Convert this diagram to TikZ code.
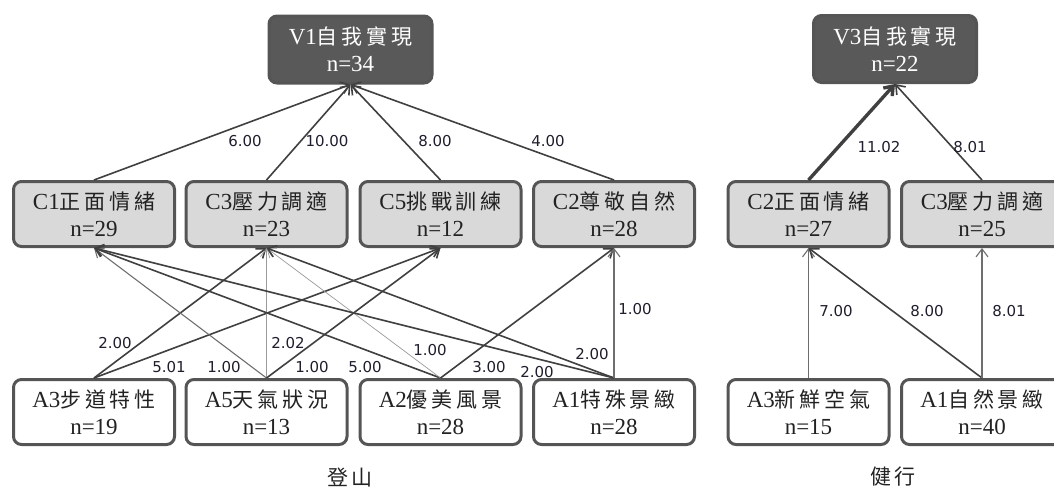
\documentclass[tikz,border=0pt]{standalone}
\usepackage{fontspec}
\setmainfont{Liberation Serif}
\newfontfamily\cjkface[LetterSpace=18]{Noto Sans CJK TC}
\newcommand\cjk{\cjkface\fontsize{21}{27}\selectfont}
\newfontfamily\numfont{DejaVu Sans}
\usetikzlibrary{arrows.meta}

\definecolor{frame}{HTML}{555555}
\definecolor{midfill}{HTML}{D9D9D9}
\definecolor{topfill}{HTML}{595959}
\definecolor{ink}{HTML}{222222}
\definecolor{wire}{HTML}{404040}
\definecolor{wiremid}{HTML}{6E6E6E}
\definecolor{wirelight}{HTML}{9A9A9A}
\definecolor{numink}{HTML}{1E1E2C}

\begin{document}
\begin{tikzpicture}[x=1pt,y=-1pt,
  box/.style={draw=frame, line width=3pt, rounded corners=8pt,
    minimum width=161pt, minimum height=65pt, inner sep=0pt,
    align=center, text=ink, font=\fontsize{23}{27}\selectfont},
  attr/.style={box, fill=white},
  cons/.style={box, fill=midfill},
  goal/.style={box, fill=topfill, text=white, minimum width=163pt, minimum height=67pt},
  link/.style={draw=wire, line width=1.6pt,
    -{Straight Barb[length=8pt,width=12pt]}},
  linkmid/.style={link, draw=wiremid, line width=1.1pt},
  linkfaint/.style={link, draw=wirelight, line width=0.7pt},
  linkheavy/.style={link, line width=3.4pt},
  wt/.style={font=\numfont\fontsize{15}{15}\selectfont, text=numink, inner sep=0pt},
  title/.style={font=\cjkface\fontsize{21}{21}\selectfont, text=ink, inner sep=0pt}
]
\useasboundingbox (0,0) rectangle (1054,488);

% ---------- 登山 ----------
\node[goal] (V1) at (350.5,49.5) {V1{\cjk 自我實現}\\n=34};

\node[cons] (C1) at (94,214)    {C1{\cjk 正面情緒}\\n=29};
\node[cons] (C3) at (266.5,214) {C3{\cjk 壓力調適}\\n=23};
\node[cons] (C5) at (440.5,214) {C5{\cjk 挑戰訓練}\\n=12};
\node[cons] (C2) at (614,214)   {C2{\cjk 尊敬自然}\\n=28};

\node[attr] (A3) at (94,412)    {A3{\cjk 步道特性}\\n=19};
\node[attr] (A5) at (266.5,412) {A5{\cjk 天氣狀況}\\n=13};
\node[attr] (A2) at (440.5,412) {A2{\cjk 優美風景}\\n=28};
\node[attr] (A1) at (614,412)   {A1{\cjk 特殊景緻}\\n=28};

\draw[link] (C1.north) -- (V1.south);
\draw[link] (C3.north) -- (V1.south);
\draw[link] (C5.north) -- (V1.south);
\draw[link] (C2.north) -- (V1.south);

\draw[link]      (A3.north) -- (C3.south);
\draw[link]      (A3.north) -- (C5.south);
\draw[linkmid]   (A5.north) -- (C1.south);
\draw[linkfaint] (A5.north) -- (C3.south);
\draw[link]      (A5.north) -- (C5.south);
\draw[link]      (A2.north) -- (C1.south);
\draw[linkfaint] (A2.north) -- (C3.south);
\draw[link]      (A2.north) -- (C2.south);
\draw[link]      (A1.north) -- (C1.south);
\draw[link]      (A1.north) -- (C3.south);
\draw[linkmid]   (A1.north) -- (C2.south);

\node[wt] (w1) at (245,141) {6.00};
\node[wt] (w2) at (327,141) {10.00};
\node[wt] (w3) at (435,141) {8.00};
\node[wt] (w4) at (548,141) {4.00};

\node[wt] (w5)  at (115,343) {2.00};
\node[wt] (w6)  at (169,367) {5.01};
\node[wt] (w7)  at (224,367) {1.00};
\node[wt] (w8)  at (288,343) {2.02};
\node[wt] (w9)  at (312,367) {1.00};
\node[wt] (w10) at (365,367) {5.00};
\node[wt] (w11) at (430,350) {1.00};
\node[wt] (w12) at (489,367) {3.00};
\node[wt] (w13) at (537,372) {2.00};
\node[wt] (w14) at (592,354) {2.00};
\node[wt] (w15) at (635,309) {1.00};

\node[title] (t1) at (350,477) {登山};

% ---------- 健行 ----------
\node[goal] (V3) at (895,49) {V3{\cjk 自我實現}\\n=22};

\node[cons] (D2) at (808.5,214) {C2{\cjk 正面情緒}\\n=27};
\node[cons] (D3) at (982,214)   {C3{\cjk 壓力調適}\\n=25};

\node[attr] (B3) at (808.5,412) {A3{\cjk 新鮮空氣}\\n=15};
\node[attr] (B1) at (982,412)   {A1{\cjk 自然景緻}\\n=40};

\draw[linkheavy] (D2.north) -- (V3.south);
\draw[link]      (D3.north) -- (V3.south);
\draw[linkmid]   (B3.north) -- (D2.south);
\draw[link]      (B1.north) -- (D2.south);
\draw[linkmid]   (B1.north) -- (D3.south);

\node[wt] (w16) at (879,147)  {11.02};
\node[wt] (w17) at (970,147)  {8.01};
\node[wt] (w18) at (836,311)  {7.00};
\node[wt] (w19) at (927,311)  {8.00};
\node[wt] (w20) at (1009,311) {8.01};

\node[title] (t2) at (893,477) {健行};
\end{tikzpicture}
\end{document}
